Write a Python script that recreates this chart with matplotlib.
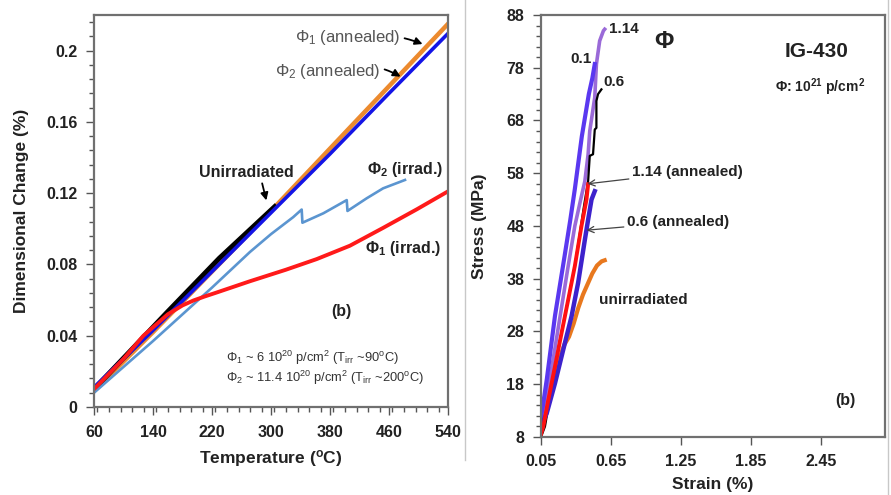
import numpy as np
import matplotlib
matplotlib.use('Agg')
import matplotlib.pyplot as plt
from matplotlib.lines import Line2D
from matplotlib.ticker import MultipleLocator

plt.rcParams['font.family'] = ['Liberation Sans', 'DejaVu Sans']
plt.rcParams['mathtext.fontset'] = 'custom'
plt.rcParams['mathtext.rm'] = 'Liberation Sans'
plt.rcParams['mathtext.bf'] = 'Liberation Sans:bold'
plt.rcParams['mathtext.default'] = 'regular'

# ---- left panel: dimensional change vs temperature
t_ann = [60, 140, 220, 300, 380, 460, 540]
phi1_ann = [0.009, 0.042, 0.076, 0.110, 0.145, 0.180, 0.215]
phi2_ann = [0.011, 0.043, 0.076, 0.109, 0.142, 0.176, 0.2096]

t_unirr = [60, 160, 230, 305]
unirr = [0.010, 0.0535, 0.0835, 0.1124]

t_phi2_irr = [60, 140, 220, 271.5, 300, 330, 341.6, 342.6, 371, 402.7, 403.7, 429.7, 452, 481.7]
phi2_irr = [0.008, 0.037, 0.067, 0.087, 0.097, 0.1065, 0.1108, 0.1034, 0.1087, 0.1161, 0.110, 0.1171,
            0.1227, 0.1274]

t_phi1_irr = [60, 100, 127, 160, 180, 195, 210, 226, 271, 320, 362, 407, 452, 498, 540]
phi1_irr = [0.010, 0.027, 0.040, 0.052, 0.057, 0.0598, 0.062, 0.0642, 0.0705, 0.077, 0.083, 0.0905,
            0.1005, 0.111, 0.121]

# ---- right panel: stress vs strain
s_114 = [0.05, 0.12, 0.20, 0.28, 0.34, 0.39, 0.426, 0.454, 0.468, 0.511, 0.525, 0.553, 0.585, 0.596]
st_114 = [10, 18, 29, 40, 48, 53, 56.5, 61.6, 66.0, 72.4, 78.7, 83.1, 85.0, 85.3]

s_01 = [0.05, 0.06, 0.10, 0.17, 0.25, 0.30, 0.34, 0.37, 0.40, 0.43, 0.46, 0.49, 0.511]
st_01 = [12, 13, 19, 31, 42, 49, 55, 60, 65, 69, 73, 76, 78.7]

s_06 = [0.05, 0.084, 0.20, 0.34, 0.42, 0.454, 0.468, 0.496, 0.511, 0.525, 0.525, 0.539, 0.568]
st_06 = [8, 10, 25, 40.4, 52, 56.5, 61.3, 61.6, 66.3, 66.6, 71.7, 73.0, 73.9]

s_114a = [0.05, 0.07, 0.112, 0.17, 0.227, 0.283, 0.34, 0.397, 0.44, 0.454]
st_114a = [8.5, 10, 15, 21.4, 27.8, 34, 40.4, 48, 53, 55.9]

s_06a = [0.05, 0.099, 0.17, 0.24, 0.312, 0.368, 0.426, 0.454, 0.483, 0.511]
st_06a = [10, 12.5, 18.2, 24.5, 30.9, 37.2, 45.4, 49.2, 53, 54.6]

s_unirr = [0.05, 0.09, 0.13, 0.17, 0.21, 0.25, 0.29, 0.33, 0.37, 0.41, 0.45, 0.49, 0.53, 0.57, 0.596]
st_unirr = [10.5, 14, 17.5, 20.5, 23, 25.5, 27, 29.5, 32.5, 35, 37, 39, 40.5, 41.3, 41.5]

left_xticks = [60, 140, 220, 300, 380, 460, 540]
left_yticks = [0, 0.04, 0.08, 0.12, 0.16, 0.2]
right_xticks = [0.05, 0.65, 1.25, 1.85, 2.45]
right_yticks = [8, 18, 28, 38, 48, 58, 68, 78, 88]

SPINE = '#707070'


def style_axes(ax):
    for sp in ax.spines.values():
        sp.set_color(SPINE)
        sp.set_linewidth(1.6)
    ax.tick_params(which='both', direction='out', color='#555555', width=1.0)
    ax.tick_params(which='major', length=6, labelsize=11.5)
    ax.tick_params(which='minor', length=3.5)
    for lab in ax.get_xticklabels() + ax.get_yticklabels():
        lab.set_fontweight('bold')
        lab.set_color('#222222')


def left_panel(ax):
    ax.plot(t_ann, phi1_ann, color='#ec8a2e', lw=3.2)
    ax.plot(t_unirr, unirr, color='black', lw=3.6)
    ax.plot(t_ann, phi2_ann, color='#1414e6', lw=2.6)
    ax.plot(t_phi2_irr, phi2_irr, color='#5b95d0', lw=1.9)
    ax.plot(t_phi1_irr, phi1_irr, color='#ff1a1a', lw=2.8)

    ax.set_xlim(60, 540)
    ax.set_ylim(0, 0.22)
    ax.set_xticks(left_xticks)
    ax.set_yticks(left_yticks)
    ax.set_yticklabels(['0', '0.04', '0.08', '0.12', '0.16', '0.2'])
    ax.xaxis.set_minor_locator(MultipleLocator(16))
    ax.yaxis.set_minor_locator(MultipleLocator(0.008))
    ax.tick_params(axis='x', pad=7)
    ax.tick_params(axis='y', pad=6)
    style_axes(ax)
    ax.set_xlabel('Temperature ($^o$C)', fontsize=12.5, fontweight='bold', labelpad=6, color='#222222')
    ax.set_ylabel('Dimensional Change (%)', fontsize=12.5, fontweight='bold', labelpad=12, color='#222222')

    arr = dict(arrowstyle='-|>', color='black', lw=1.3, mutation_scale=11)
    ax.annotate('Φ$_1$ (annealed)', xy=(509, 0.2031), xytext=(404, 0.2076),
                ha='center', va='center', fontsize=12, color='#555555',
                arrowprops=dict(arr, connectionstyle='arc3,rad=-0.15', shrinkA=1))
    ax.annotate('Φ$_2$ (annealed)', xy=(479, 0.1846), xytext=(377, 0.188),
                ha='center', va='center', fontsize=12, color='#555555',
                arrowprops=dict(arr, connectionstyle='arc3,rad=-0.25', shrinkA=1))
    ax.text(267, 0.1318, 'Unirradiated', ha='center', va='center', fontsize=11.5,
            fontweight='bold', color='#222222')
    ax.annotate('', xy=(294.6, 0.1144), xytext=(288, 0.1255),
                arrowprops=dict(arr, shrinkA=0))
    ax.text(482, 0.133, 'Φ$_\\mathbf{2}$ (irrad.)', ha='center', va='center', fontsize=11.5,
            fontweight='bold', color='#222222')
    ax.text(479, 0.0892, 'Φ$_\\mathbf{1}$ (irrad.)', ha='center', va='center', fontsize=11.5,
            fontweight='bold', color='#222222')
    ax.text(396, 0.0535, '(b)', ha='center', va='center', fontsize=11.5,
            fontweight='bold', color='#222222')
    ax.text(239, 0.0275, 'Φ$_1$ ~ 6 10$^{20}$ p/cm$^2$ (T$_{irr}$ ~90$^o$C)',
            ha='left', va='center', fontsize=9.3, color='#333333')
    ax.text(239, 0.0163, 'Φ$_2$ ~ 11.4 10$^{20}$ p/cm$^2$ (T$_{irr}$ ~200$^o$C)',
            ha='left', va='center', fontsize=9.3, color='#333333')


def right_panel(ax):
    ax.plot(s_unirr, st_unirr, color='#e8781e', lw=3.0)
    ax.plot(s_114, st_114, color='#9a6ad8', lw=2.6)
    ax.plot(s_01, st_01, color='#5a38f0', lw=3.0)
    ax.plot(s_06, st_06, color='black', lw=1.6)
    ax.plot(s_06a, st_06a, color='#3d22cc', lw=3.2)
    ax.plot(s_114a, st_114a, color='#ff1010', lw=2.8)

    ax.set_xlim(0.05, 3.0)
    ax.set_ylim(8, 88)
    ax.set_xticks(right_xticks)
    ax.set_xticklabels(['0.05', '0.65', '1.25', '1.85', '2.45'])
    ax.set_yticks(right_yticks)
    ax.yaxis.set_minor_locator(MultipleLocator(2))
    ax.tick_params(axis='x', pad=6)
    ax.tick_params(axis='y', pad=6)
    style_axes(ax)
    ax.set_xlabel('Strain (%)', fontsize=12.5, fontweight='bold', labelpad=6, color='#222222')
    ax.set_ylabel('Stress (MPa)', fontsize=12.5, fontweight='bold', labelpad=14, color='#222222')

    kw = dict(fontsize=11, fontweight='bold', color='#222222', va='center')
    ax.text(0.630, 85.3, '1.14', ha='left', **kw)
    ax.text(0.487, 79.6, '0.1', ha='right', **kw)
    ax.text(0.588, 75.3, '0.6', ha='left', **kw)
    ax.text(1.10, 82.9, 'Φ', ha='center', va='center', fontsize=17, fontweight='bold', color='#222222')
    ax.text(2.41, 81.0, 'IG-430', ha='center', va='center', fontsize=15, fontweight='bold', color='#222222')
    ax.text(2.44, 74.3, 'Φ: 10$^\\mathbf{21}$ p/cm$^\\mathbf{2}$', ha='center', va='center',
            fontsize=10, fontweight='bold', color='#222222')
    arr = dict(arrowstyle='->', color='#444444', lw=0.9, shrinkA=0, shrinkB=0)
    ax.annotate('1.14 (annealed)', xy=(0.449, 56.0), xytext=(0.827, 58.2), ha='left',
                arrowprops=arr, **kw)
    ax.annotate('0.6 (annealed)', xy=(0.44, 47.2), xytext=(0.784, 48.7), ha='left',
                arrowprops=arr, **kw)
    ax.text(0.545, 34.0, 'unirradiated', ha='left', **kw)
    ax.text(2.657, 15.0, '(b)', ha='center', fontsize=11.5, fontweight='bold',
            color='#222222', va='center')


fig = plt.figure(figsize=(8.91, 4.95), dpi=100)
ax1 = fig.add_axes([0.1055, 0.1778, 0.3973, 0.792])
ax2 = fig.add_axes([0.6072, 0.1172, 0.3861, 0.8525])
left_panel(ax1)
right_panel(ax2)

# frame lines from the original composite
fig.add_artist(Line2D([465 / 891, 465 / 891], [1 - 460 / 495, 1.0], color='#c8c8c8', lw=1.0))
fig.add_artist(Line2D([888 / 891, 888 / 891], [0.0, 1.0], color='#c8c8c8', lw=1.0))

fig.savefig('out.png', dpi=100)
